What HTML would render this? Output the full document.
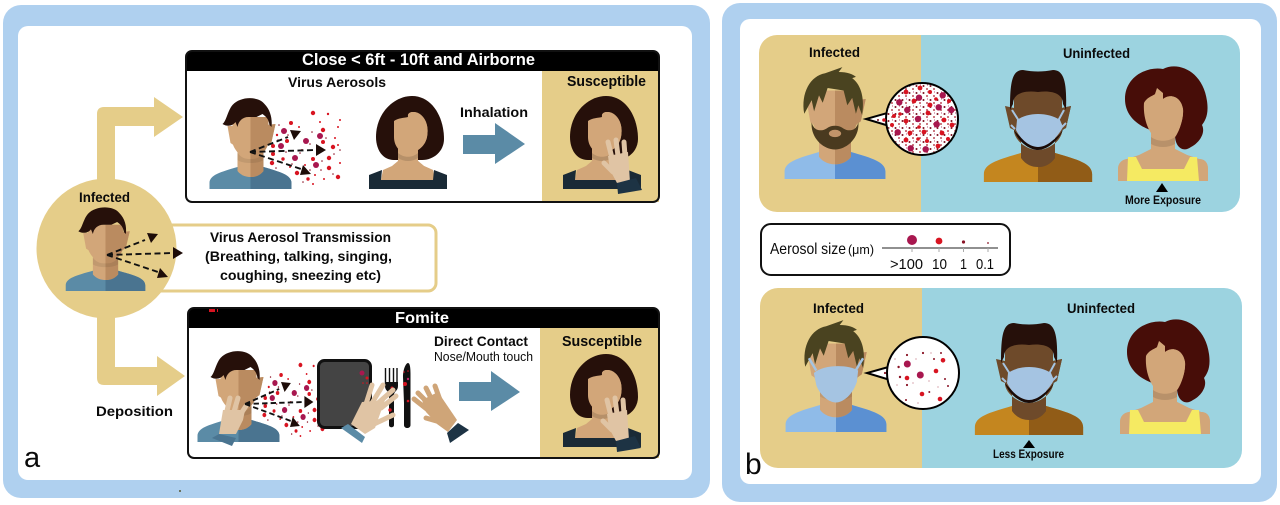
<!DOCTYPE html>
<html lang="en">
<head>
<meta charset="utf-8">
<title>Aerosol transmission diagram</title>
<style>
html,body{margin:0;padding:0;background:#fff;width:1280px;height:505px;overflow:hidden}
svg{display:block}
text{font-family:"Liberation Sans",sans-serif;font-weight:bold;fill:#0a0a0a}
</style>
</head>
<body>
<svg width="1280" height="505" viewBox="0 0 1280 505" xmlns="http://www.w3.org/2000/svg">
<defs>
<clipPath id="rh"><rect x="0" y="-300" width="300" height="400"/></clipPath>
<g id="sh"><path d="M-41,0V-6C-41,-14 -30,-17 -13,-22H13C30,-17 41,-14 41,-6V0Z"/></g>
<g id="hd">
<path d="M-13,-42V-18C-9,-13 -4,-12 0,-12C4,-12 9,-13 13,-18V-42Z"/>
<path d="M-18,-72H18L18,-46C16,-38 8,-30 0,-30C-8,-30 -16,-38 -18,-46Z"/>
<path d="M-23,-63L-17,-63V-44L-20,-46Z"/><path d="M25,-65L17,-64V-44L21,-47Z"/>
</g>
<g id="face">
<use href="#hd" fill="#d2a679"/><use href="#hd" fill="#ba8b60" clip-path="url(#rh)"/>
<path d="M-13,-36C-8,-30 -4,-30 0,-30C4,-30 8,-30 13,-36V-29C8,-25 -8,-25 -13,-29Z" fill="#000" opacity=".08"/>
</g>
<g id="man">
<use href="#sh" fill="#5b8ba6"/><use href="#sh" fill="#4a7490" clip-path="url(#rh)"/>
<use href="#face"/>
<path d="M-28,-65C-24,-68 -23,-78 -18,-84C-10,-93 8,-93 14,-85C20,-79 22,-70 21,-62L19,-64C18,-70 16,-72 12,-75L6,-72H-2C-8,-72 -12,-68 -13,-62L-15,-67C-18,-63 -23,-62 -28,-65Z" fill="#26100a"/>
</g>
<g id="bman">
<use href="#sh" fill="#8fbbe8"/><use href="#sh" fill="#5b90d2" clip-path="url(#rh)"/>
<use href="#face"/>
<path d="M-25,-53C-28,-70 -20,-84 -8,-86L6,-91L3,-87C10,-87 15,-85 17,-83L14,-82C22,-76 24,-64 22,-52L19,-60L17,-53L14,-66L10,-60L7,-72L-6,-74L-10,-62L-13,-68L-17,-55L-19,-64Z" fill="#4a4320"/>
</g>
<g id="woman">
<path d="M-32,-52C-32,-76 -14,-93 4,-93C24,-93 36,-72 36,-50C36,-38 26,-29 14,-29H-14C-26,-29 -32,-40 -32,-52Z" fill="#26100a"/>
<path id="wfp" d="M-14,-68C-10,-71 -4,-71 0,-72C-1,-77 5,-78 10,-76C18,-72 21,-62 19,-52C17,-42 8,-36 0,-36C-10,-36 -14,-45 -14,-52Z M-10,-42H10V-28L16,-23L25,-19L27,-9H-27L-25,-19L-16,-23L-10,-28Z" fill="#d2a679"/>
<use href="#wfp" fill="#ba8b60" clip-path="url(#rh)"/>
<path d="M-10,-36C-4,-31 4,-31 10,-36V-31C4,-27 -4,-27 -10,-31Z" fill="#000" opacity=".13"/>
<path d="M-39,0V-14L-26,-19L-27,-9H25L26,-19L39,-14V0Z" fill="#1a2a36"/>
</g>
<g id="cwoman">
<path d="M-38,-82C-38,-105 -15,-115 0,-112C15,-120 40,-110 44,-80C46,-66 42,-60 39,-56C43,-48 36,-38 28,-34C20,-28 12,-34 12,-46L-10,-50C-25,-55 -38,-65 -38,-82Z" fill="#470d08"/>
<path id="cwp" d="M-19,-78C-16,-84 -10,-85 -8,-87L-6,-93L0,-88V-82C8,-88 18,-84 20,-72C21,-60 14,-46 12,-44V-32L24,-26L36,-22C40,-22 45,-20 45,-12V0H-45V-12C-45,-20 -38,-22 -36,-22L-24,-26L-12,-32V-48C-16,-54 -20,-65 -19,-78Z" fill="#d2a679"/>
<use href="#cwp" fill="#ba8b60" clip-path="url(#rh)"/>
<path d="M-12,-44C-5,-39 5,-39 12,-44V-37C5,-33 -5,-33 -12,-37Z" fill="#000" opacity=".12"/>
<path d="M-36,0L-35,-24H-27L-21,-12H21L27,-24H34L36,0Z" fill="#f5ea62"/>
</g>
<g id="bkman">
<g transform="scale(1.32)"><use href="#sh" fill="#c4861f"/><use href="#sh" fill="#915c17" clip-path="url(#rh)"/></g>
<path id="bkh" d="M-17,-50V-24C-12,-17 -6,-15 0,-15C6,-15 12,-17 17,-24V-50Z M-24,-90C-24,-96 24,-96 24,-90L24,-50C22,-40 10,-32 0,-32C-10,-32 -22,-40 -24,-50Z M-33,-76L-24,-74V-52L-28,-54Z M33,-76L24,-74V-52L28,-54Z" fill="#6e4a2a"/>
<use href="#bkh" fill="#54332a" clip-path="url(#rh)"/>
<path d="M-28,-72C-28,-100 -26,-112 -15,-112C-5,-110 5,-110 15,-112C26,-112 29,-100 28,-72L25,-78C25,-88 15,-92 0,-90C-15,-92 -25,-88 -25,-78Z" fill="#26100a"/>
<path d="M-24,-52C-20,-40 -8,-32 0,-32C8,-32 20,-40 26,-54L22,-48C14,-40 8,-37 0,-37C-8,-37 -16,-42 -24,-52Z" fill="#1a0b07"/>
<path d="M-26,-72L-19,-61M26,-72L20,-61M-23,-53L-27,-57M24,-55L28,-59" stroke="#a5c4e2" stroke-width="2" fill="none"/>
<path d="M-21,-62C-10,-70 10,-70 22,-62L25,-55C18,-42 8,-35 0,-35C-8,-35 -17,-42 -22,-52Z" fill="#a5c4e2"/>
</g>
<g id="hand">
<path d="M11,18L7,2M17,16L15,0M24,16L23,2M12,32L3,23" stroke="#e0c4a4" stroke-width="5" stroke-linecap="round" fill="none"/>
<path d="M7,16L27,12L29,42L16,43L9,30Z" fill="#e0c4a4"/>
<path d="M16,43L35,38L41,50L17,54Z" fill="#1d3344"/>
</g>
<g id="pt">
<g fill="#d81421">
<circle cx="41" cy="-29" r="2"/><circle cx="63" cy="-39" r="2.2"/><circle cx="78" cy="-38" r="1.2"/><circle cx="90" cy="-32" r="1"/><circle cx="88" cy="-25" r="1"/><circle cx="73" cy="-22" r="2.2"/><circle cx="23" cy="-6" r="2"/><circle cx="37" cy="-11" r="2"/><circle cx="23" cy="2" r="2"/><circle cx="33" cy="7" r="1.7"/><circle cx="22" cy="11" r="2.2"/><circle cx="63" cy="7" r="2"/><circle cx="73" cy="-10" r="2"/><circle cx="83" cy="-5" r="2.2"/><circle cx="88" cy="-7" r="1"/><circle cx="79" cy="6" r="2.2"/><circle cx="47" cy="21" r="2.2"/><circle cx="58" cy="27" r="1.7"/><circle cx="63" cy="32" r="1"/><circle cx="79" cy="16" r="2.2"/><circle cx="88" cy="25" r="2.2"/><circle cx="65" cy="23" r="1"/><circle cx="90" cy="11" r="1"/><circle cx="40" cy="15" r="1"/><circle cx="27" cy="-17" r="1.2"/><circle cx="52" cy="-2" r="1"/><circle cx="49" cy="-25" r="1"/><circle cx="55" cy="13" r="1"/><circle cx="70" cy="-30" r="1"/><circle cx="85" cy="-14" r="1"/><circle cx="74" cy="27" r="1"/>
</g>
<g fill="#8a1426">
<circle cx="29" cy="-27" r=".8"/><circle cx="38" cy="-17" r=".8"/><circle cx="28" cy="-12" r=".8"/><circle cx="36" cy="0" r=".8"/><circle cx="50" cy="1" r=".8"/><circle cx="42" cy="12" r=".8"/><circle cx="62" cy="-20" r=".8"/><circle cx="76" cy="-14" r=".8"/><circle cx="60" cy="-8" r=".8"/><circle cx="72" cy="9" r=".8"/><circle cx="71" cy="18" r=".8"/><circle cx="60" cy="18" r=".8"/><circle cx="84" cy="2" r=".8"/><circle cx="90" cy="-2" r=".8"/><circle cx="53" cy="30" r=".8"/><circle cx="83" cy="22" r=".8"/><circle cx="26" cy="16" r=".8"/>
</g>
<g fill="#a8174f">
<circle cx="34" cy="-21" r="3"/><circle cx="56" cy="-11" r="3"/><circle cx="31" cy="-6" r="3"/><circle cx="45" cy="6" r="3"/><circle cx="70" cy="-16" r="3"/><circle cx="66" cy="13" r="3"/>
</g>
</g>
<g id="arrs">
<path d="M0,0L38,-15M0,0L66,-2M0,0L51,17" stroke="#111" stroke-width="1.9" stroke-dasharray="6 3.5" fill="none"/>
<path d="M40,-22L51,-21L44,-12Z M66,-8L76,-2L66,4Z M50,23L53,13L61,22Z" fill="#1d0c08"/>
</g>
<pattern id="dots" width="7" height="7" patternUnits="userSpaceOnUse">
<circle cx="1.5" cy="2" r="1" fill="#7d1020"/><circle cx="5" cy="5" r=".9" fill="#a81828"/><circle cx="5.5" cy="1" r=".5" fill="#a8174f"/>
</pattern>
</defs>

<!-- panel a -->
<rect x="3" y="5" width="707" height="493" rx="18" fill="#afd0ef"/>
<rect x="18" y="26" width="674" height="454" rx="10" fill="#fff"/>

<!-- transmission box -->
<rect x="130" y="225" width="306" height="66" rx="8" fill="#fff" stroke="#e5cd89" stroke-width="3"/>

<!-- tan arrows -->
<path d="M97,190V114Q97,107 104,107H154V97L183,117L154,137V126H115V190Z" fill="#e5cd89"/>
<path d="M97,310V378Q97,385 104,385H157V396L185,376L157,356V367H115V310Z" fill="#e5cd89"/>
<circle cx="106.5" cy="248.5" r="70" fill="#e5cd89"/>

<!-- top box -->
<rect x="186" y="51" width="473" height="151" rx="6" fill="#fff"/>
<rect x="542" y="71" width="117" height="131" fill="#e5cd89"/>
<path d="M186,71V57a6,6 0 0 1 6,-6H653a6,6 0 0 1 6,6V71Z" fill="#000"/>
<rect x="186" y="51" width="473" height="151" rx="6" fill="none" stroke="#111" stroke-width="2"/>

<!-- bottom box -->
<rect x="188" y="308" width="471" height="150" rx="6" fill="#fff"/>
<rect x="540" y="328" width="119" height="130" fill="#e5cd89"/>
<path d="M188,328V314a6,6 0 0 1 6,-6H653a6,6 0 0 1 6,6V328Z" fill="#000"/>
<rect x="188" y="308" width="471" height="150" rx="6" fill="none" stroke="#111" stroke-width="2"/>
<rect x="209" y="309" width="6" height="3" fill="#d81421"/><rect x="217" y="309" width="1" height="3" fill="#d81421"/>
<circle cx="180" cy="491" r="1" fill="#553"/>

<!-- people a -->
<use href="#man" transform="translate(250.5,189)"/>
<use href="#pt" transform="translate(250,152)"/>
<use href="#arrs" transform="translate(250,152)"/>
<use href="#woman" transform="translate(408,189)"/>
<use href="#woman" transform="translate(602,189)"/>
<use href="#hand" transform="translate(601,140)"/>
<use href="#man" transform="translate(105.5,291) scale(.97,.92)"/>
<use href="#arrs" transform="translate(107,255)"/>
<use href="#woman" transform="translate(602,447)"/>
<use href="#hand" transform="translate(600,398)"/>

<!-- blue arrows -->
<path d="M463,135H495V123L525,144L495,164V154H463Z" fill="#5b8ba6"/>
<path d="M459,382H491V371L520,392L491,411V401H459Z" fill="#5b8ba6"/>

<!-- fomite scene -->
<use href="#man" transform="translate(238.5,442)"/>
<path d="M226,415L230,398M233,415L238,398M240,415L246,406" stroke="#e0c4a4" stroke-width="5" stroke-linecap="round" fill="none"/>
<path d="M223,410L245,410L243,420L236,434H219Z" fill="#e0c4a4"/>
<path d="M212,438L219,434L236,438L232,446Z" fill="#4a7490"/>
<use href="#pt" transform="translate(245,404) scale(.88,1)"/>
<use href="#arrs" transform="translate(245,404) scale(.9,1)"/>

<!-- tablet -->
<rect x="318.5" y="360.5" width="52" height="67" rx="6" fill="#444" stroke="#111" stroke-width="3"/>
<circle cx="362" cy="373" r="2.5" fill="#a8174f"/><circle cx="367" cy="378" r="1.5" fill="#d81421"/><circle cx="363" cy="383" r=".8" fill="#d81421"/><circle cx="367" cy="383" r=".8" fill="#d81421"/>

<!-- fork and knife -->
<path d="M385.5,368V384M389.5,368V384M393.5,368V384M397,368V384" stroke="#111" stroke-width="1.4" fill="none"/>
<path d="M385,382H398V386C398,391 394,391 394,395V425C394,428 389,428 389,425V395C389,391 385,391 385,386Z" fill="#111"/>
<path d="M403,377C403,369 406,363 408,363C410,363 410.5,368 410.5,374V425C410.5,429 404,429 404,425V403Z" fill="#111"/>
<circle cx="392" cy="388" r="1.5" fill="#d81421"/><circle cx="390" cy="410" r="1.7" fill="#d81421"/><circle cx="405" cy="384" r="2" fill="#d81421"/><circle cx="408" cy="379" r="1.2" fill="#c0246a"/><circle cx="408" cy="401" r="1.3" fill="#d81421"/><circle cx="404" cy="372" r=".8" fill="#d81421"/><circle cx="408" cy="371" r=".8" fill="#d81421"/>

<!-- hand on tablet -->
<path d="M341,428L348,424L365,437L362,443Z" fill="#5b8ba6"/>
<path d="M366,404L372,385M372,403L383,385M377,404L393,390M381,408L396,396M372,425L393,415" stroke="#e0c4a4" stroke-width="5" stroke-linecap="round" fill="none"/>
<path d="M351,424L362,402L385,400L375,428L365,434Z" fill="#e0c4a4"/>

<!-- right hand -->
<path d="M428,410L414,399M430,405L418,393M433,402L426,388M440,400L435,386M440,422L426,418" stroke="#cfa578" stroke-width="5" stroke-linecap="round" fill="none"/>
<path d="M422,400L438,392L457,420L448,432L437,424L426,412Z" fill="#cfa578"/>
<path d="M447,433L458,423L469,430L450,443Z" fill="#1d3344"/>

<!-- panel a text -->
<text x="302" y="65" font-size="17" textLength="233" lengthAdjust="spacingAndGlyphs" style="fill:#fff">Close &lt; 6ft - 10ft and Airborne</text>
<text x="288" y="87" font-size="14" textLength="98" lengthAdjust="spacingAndGlyphs">Virus Aerosols</text>
<text x="567" y="86" font-size="15" textLength="79" lengthAdjust="spacingAndGlyphs">Susceptible</text>
<text x="460" y="117" font-size="13.5" textLength="68" lengthAdjust="spacingAndGlyphs">Inhalation</text>
<text x="79" y="202" font-size="13.5" textLength="51" lengthAdjust="spacingAndGlyphs">Infected</text>
<text x="210" y="242" font-size="14" textLength="181" lengthAdjust="spacingAndGlyphs">Virus Aerosol Transmission</text>
<text x="205" y="261" font-size="14" textLength="187" lengthAdjust="spacingAndGlyphs">(Breathing, talking, singing,</text>
<text x="220" y="280" font-size="14" textLength="161" lengthAdjust="spacingAndGlyphs">coughing, sneezing etc)</text>
<text x="395" y="323" font-size="16" textLength="54" lengthAdjust="spacingAndGlyphs" style="fill:#fff">Fomite</text>
<text x="434" y="346" font-size="14" textLength="94" lengthAdjust="spacingAndGlyphs">Direct Contact</text>
<text x="434" y="361" font-size="12.5" textLength="99" lengthAdjust="spacingAndGlyphs" style="font-weight:normal">Nose/Mouth touch</text>
<text x="562" y="346" font-size="15" textLength="80" lengthAdjust="spacingAndGlyphs">Susceptible</text>
<text x="96" y="416" font-size="14" textLength="77" lengthAdjust="spacingAndGlyphs">Deposition</text>
<text x="24" y="467" font-size="29" style="font-weight:normal">a</text>

<!-- panel b -->
<rect x="722" y="3" width="555" height="499" rx="18" fill="#afd0ef"/>
<rect x="740" y="19" width="521" height="465" rx="10" fill="#fff"/>

<path d="M921,35H777a18,18 0 0 0 -18,18V194a18,18 0 0 0 18,18H921Z" fill="#e5cd89"/>
<path d="M921,35H1222a18,18 0 0 1 18,18V194a18,18 0 0 1 -18,18H921Z" fill="#9cd3e0"/>
<path d="M922,288H778a18,18 0 0 0 -18,18V450a18,18 0 0 0 18,18H922Z" fill="#e5cd89"/>
<path d="M922,288H1224a18,18 0 0 1 18,18V450a18,18 0 0 1 -18,18H922Z" fill="#9cd3e0"/>

<!-- infected bearded -->
<g transform="translate(835,179) scale(1.23)">
<use href="#bman"/>
<path d="M-19,-46C-17,-38 -10,-39 -7,-41C-3,-44 3,-44 7,-41C10,-39 17,-38 19,-46C20,-34 10,-24 0,-24C-10,-24 -20,-34 -19,-46Z" fill="#4a3a1f"/>
<ellipse cx="0" cy="-37" rx="5" ry="3" fill="#c2946a"/>
</g>
<!-- infected masked -->
<g transform="translate(836,432) scale(1.23)">
<use href="#bman"/>
<path d="M-22,-60L-16,-50M22,-60L16,-50" stroke="#a5c4e2" stroke-width="2" fill="none"/>
<path d="M-18,-48C-10,-55 10,-55 18,-50L17,-41C14,-31 6,-24 0,-24C-6,-24 -13,-30 -16,-38Z" fill="#a5c4e2"/>
</g>

<!-- bubble 1 -->
<g transform="translate(922,119)">
<path d="M-24,-9L-56,0L-26,9Z" fill="#fff" stroke="#000" stroke-width="2"/>
<circle r="36" fill="#fff" stroke="#000" stroke-width="2"/>
<path d="M-24,-8L-27,8L-33,3Z" fill="#fff"/>
<circle r="35" fill="url(#dots)"/>
<g fill="#d81421">
<circle cx="-16" cy="-27" r="2.4"/><circle cx="-2" cy="-31" r="2.4"/><circle cx="8" cy="-27" r="2"/><circle cx="-8" cy="-18" r="2.4"/><circle cx="8" cy="-14" r="2.4"/><circle cx="27" cy="-18" r="2"/><circle cx="-28" cy="-3" r="2"/><circle cx="-16" cy="2" r="2.4"/><circle cx="6" cy="-6" r="2.4"/><circle cx="22" cy="1" r="2.4"/><circle cx="30" cy="6" r="2.4"/><circle cx="-30" cy="6" r="2"/><circle cx="-12" cy="14" r="2.4"/><circle cx="2" cy="13" r="2.4"/><circle cx="20" cy="14" r="2.4"/><circle cx="26" cy="20" r="2"/><circle cx="-16" cy="21" r="2.4"/><circle cx="16" cy="27" r="2.4"/><circle cx="5" cy="22" r="2"/><circle cx="-3" cy="8" r="1.8"/><circle cx="-22" cy="-5" r="1.8"/><circle cx="14" cy="-20" r="1.8"/><circle cx="-4" cy="20" r="1.8"/>
</g>
<g fill="#a8174f">
<circle cx="-22.7" cy="-16.7" r="3.2"/><circle cx="-3" cy="-21.3" r="3.2"/><circle cx="20.7" cy="-23.7" r="3.2"/><circle cx="-14.7" cy="-9" r="3.2"/><circle cx="16.7" cy="-11.7" r="3.2"/><circle cx="29.3" cy="-9" r="3.2"/><circle cx="-4" cy="0" r="3.2"/><circle cx="14.7" cy="5.3" r="3.2"/><circle cx="-24.3" cy="13.3" r="3.2"/><circle cx="-11.3" cy="29.3" r="3.2"/><circle cx="3.7" cy="30.3" r="3.2"/>
</g>
<circle cx="-38" cy="1" r="1.8" fill="#d81421"/><circle cx="-44" cy="1" r="1" fill="#7d1020"/>
</g>

<!-- bubble 2 -->
<g transform="translate(923,373)">
<path d="M-24,-9L-56,0L-26,9Z" fill="#fff" stroke="#000" stroke-width="2"/>
<circle r="36" fill="#fff" stroke="#000" stroke-width="2"/>
<path d="M-24,-8L-27,8L-33,3Z" fill="#fff"/>
<g fill="#a8174f"><circle cx="-15.7" cy="-9" r="3.5"/><circle cx="-2.7" cy="2" r="3.5"/></g>
<g fill="#d81421"><circle cx="20" cy="-12.7" r="2.3"/><circle cx="13" cy="-2" r="2.3"/><circle cx="-16" cy="5" r="2.3"/><circle cx="-1" cy="21" r="2.3"/><circle cx="17" cy="26" r="2.3"/></g>
<g fill="#8a1426"><circle cx="-16" cy="-18" r="1.1"/><circle cx="0" cy="-20" r="1.1"/><circle cx="18" cy="-20" r="1"/><circle cx="-24.4" cy="-6" r="1.2"/><circle cx="-23" cy="4" r="1.2"/><circle cx="-38" cy="0" r="1.1"/><circle cx="-16" cy="12" r="1.1"/><circle cx="6.3" cy="19" r="1"/><circle cx="22" cy="6" r="1"/><circle cx="25" cy="13" r="1"/><circle cx="-17" cy="27" r="1"/><circle cx="11" cy="-14" r="1"/></g>
<g fill="#e0b8c0"><circle cx="-7" cy="-14" r=".9"/><circle cx="8" cy="-20" r=".9"/><circle cx="-28" cy="-14" r=".9"/><circle cx="-10" cy="10" r=".9"/><circle cx="6" cy="8" r=".9"/><circle cx="-5" cy="30" r=".9"/><circle cx="15" cy="14" r=".9"/><circle cx="-26" cy="12" r=".9"/></g>
</g>

<!-- uninfected -->
<use href="#bkman" transform="translate(1038,182)"/>
<use href="#cwoman" transform="translate(1163,181)"/>
<path d="M1156,192L1162,183L1168,192Z" fill="#000"/>
<use href="#bkman" transform="translate(1029,435)"/>
<use href="#cwoman" transform="translate(1165,434)"/>
<path d="M1023,448L1029,440L1035,448Z" fill="#000"/>

<!-- aerosol scale -->
<rect x="761" y="224" width="249" height="51" rx="10" fill="#fff" stroke="#111" stroke-width="2"/>
<path d="M882,248H998" stroke="#222" stroke-width="1"/>
<path d="M912,248V252M939,248V252M963.5,248V252M988,248V252" stroke="#aaa" stroke-width="1"/>
<circle cx="912" cy="240" r="5" fill="#a8174f"/><circle cx="939" cy="241" r="3.4" fill="#d81421"/><circle cx="963.5" cy="242" r="1.6" fill="#8a1426"/><circle cx="988" cy="243" r=".9" fill="#8a1426"/>
<text x="770" y="254" font-size="16" textLength="76" lengthAdjust="spacingAndGlyphs" style="font-weight:normal">Aerosol size</text>
<text x="848" y="254" font-size="13" textLength="26" lengthAdjust="spacingAndGlyphs" style="font-weight:normal">(μm)</text>
<text x="890" y="269" font-size="15" textLength="33" lengthAdjust="spacingAndGlyphs" style="font-weight:normal">&gt;100</text>
<text x="932" y="269" font-size="15" textLength="15" lengthAdjust="spacingAndGlyphs" style="font-weight:normal">10</text>
<text x="960" y="269" font-size="15" textLength="7" lengthAdjust="spacingAndGlyphs" style="font-weight:normal">1</text>
<text x="976" y="269" font-size="15" textLength="18" lengthAdjust="spacingAndGlyphs" style="font-weight:normal">0.1</text>

<!-- panel b text -->
<text x="809" y="57" font-size="13.5" textLength="51" lengthAdjust="spacingAndGlyphs">Infected</text>
<text x="1063" y="58" font-size="13.5" textLength="67" lengthAdjust="spacingAndGlyphs">Uninfected</text>
<text x="813" y="313" font-size="13.5" textLength="51" lengthAdjust="spacingAndGlyphs">Infected</text>
<text x="1067" y="313" font-size="13.5" textLength="68" lengthAdjust="spacingAndGlyphs">Uninfected</text>
<text x="1125" y="204" font-size="12" textLength="76" lengthAdjust="spacingAndGlyphs">More Exposure</text>
<text x="993" y="458" font-size="12" textLength="71" lengthAdjust="spacingAndGlyphs">Less Exposure</text>
<text x="745" y="474" font-size="30" style="font-weight:normal">b</text>
</svg>
</body>
</html>
